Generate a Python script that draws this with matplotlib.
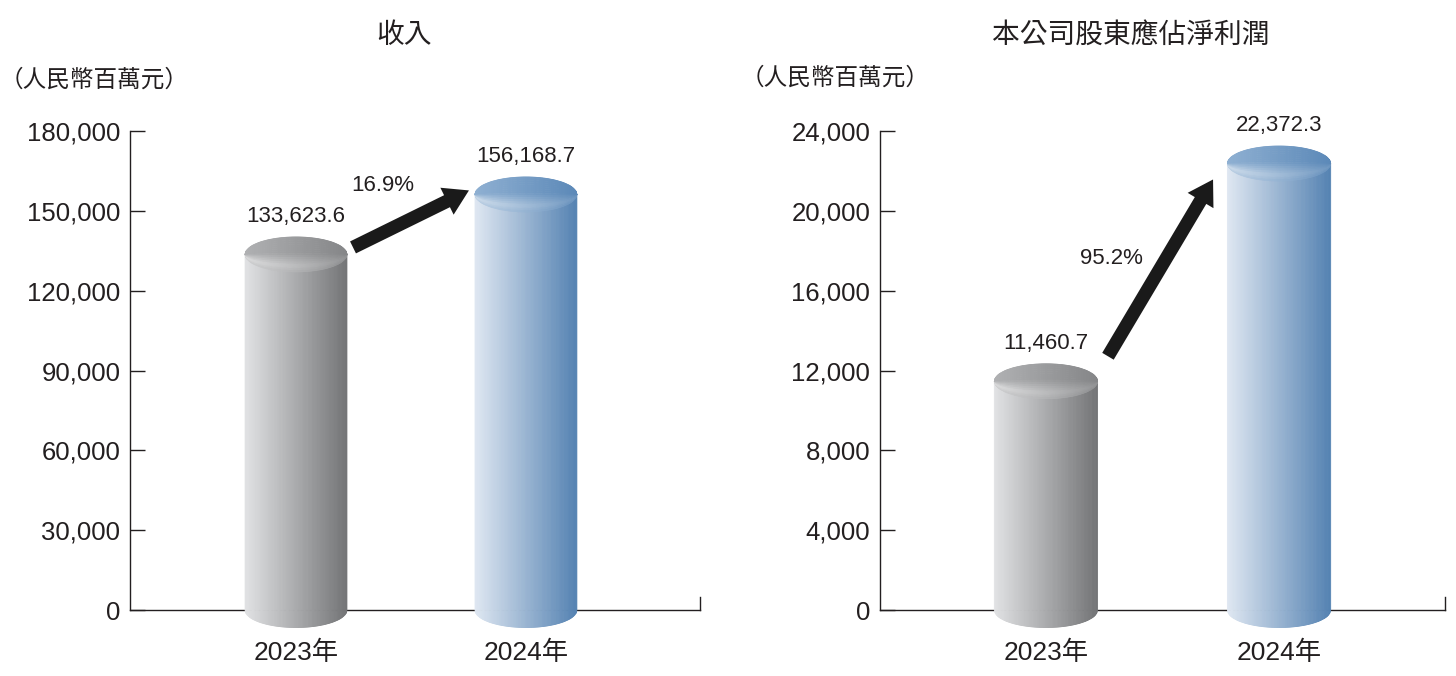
import numpy as np
import matplotlib
matplotlib.use('Agg')
import matplotlib.pyplot as plt
from matplotlib.colors import to_rgb
from matplotlib.collections import PolyCollection
from matplotlib.transforms import offset_copy

plt.rcParams['font.family'] = ['Liberation Sans', 'Noto Sans CJK TC']

# ---------------- data ----------------
years = ['2023年', '2024年']
revenue = [133623.6, 156168.7]
profit = [11460.7, 22372.3]
revenue_growth = '16.9%'
profit_growth = '95.2%'
revenue_ticks = [0, 30000, 60000, 90000, 120000, 150000, 180000]
profit_ticks = [0, 4000, 8000, 12000, 16000, 20000, 24000]
titles = ['收入', '本公司股東應佔淨利潤']
unit = '（人民幣百萬元）'

TXT = '#231f20'
W, H, DPI = 1456, 676, 100
fig = plt.figure(figsize=(W / DPI, H / DPI), dpi=DPI)


def px_axes(l, r, b_px, t_px):
    return fig.add_axes([l / W, (H - b_px) / H, (r - l) / W, (b_px - t_px) / H])


def cylinder(ax, x, v, w, ry, body_cols, top_cols, n=90):
    a = w / 2
    xs = np.linspace(x - a, x + a, n + 1)
    b0, b1 = np.array(to_rgb(body_cols[0])), np.array(to_rgb(body_cols[1]))
    t0, t1 = np.array(to_rgb(top_cols[0])), np.array(to_rgb(top_cols[1]))
    polys, cols = [], []
    tpolys, tcols = [], []
    for i in range(n):
        seg = np.linspace(xs[i], xs[i + 1], 4)
        ell = ry * np.sqrt(np.clip(1 - ((seg - x) / a) ** 2, 0, 1))
        tx = ((xs[i] + xs[i + 1]) / 2 - (x - a)) / w
        poly = list(zip(seg, -ell)) + list(zip(seg[::-1], np.full(4, v)))
        polys.append(poly)
        cols.append(b0 + (b1 - b0) * tx)
        m = 16
        for j in range(m):
            fa, fb = -1 + 2 * j / m, -1 + 2 * (j + 1) / m
            ya = v + ell * fa
            yb = v + ell * fb
            tpolys.append(list(zip(seg, ya)) + list(zip(seg[::-1], yb[::-1])))
            base = t0 + (t1 - t0) * tx
            fy = (fa + fb) / 2  # -1 front .. +1 back
            hl = 0.5 * max(0.0, 1 - abs(fy + 0.62) / 0.75) * (1 - 0.75 * tx)
            hl += 0.12 * max(0.0, (0.0 - fy)) * (1 - tx)
            c = base + (1 - base) * min(hl, 0.7)
            tcols.append(np.clip(c, 0, 1))
    pc = PolyCollection(polys, facecolors=cols, edgecolors=cols, linewidths=0.6,
                        zorder=3, clip_on=False)
    ax.add_collection(pc)
    tc = PolyCollection(tpolys, facecolors=tcols, edgecolors=tcols, linewidths=0.5,
                        zorder=4, clip_on=False)
    ax.add_collection(tc)


panels = [
    dict(rect=(130, 700), xlim=(-0.722, 1.757), vals=revenue, ticks=revenue_ticks,
         growth=revenue_growth, title=titles[0], title_x=404, unit_x=94, unit_y=80,
         tail=(57, 7), head=(-57, 4), pct=(62.6, 49.7)),
    dict(rect=(880, 1445), xlim=(-0.712, 1.712), vals=profit, ticks=profit_ticks,
         growth=profit_growth, title=titles[1], title_x=1131, unit_x=835, unit_y=78,
         tail=(62, 25), head=(-66, -16), pct=(46.8, 88.6)),
]

gray_body = ('#e2e3e5', '#737476')
gray_top = ('#b0b1b3', '#858688')
blue_body = ('#e0e8f2', '#5482b2')
blue_top = ('#8fb0d2', '#5c89b8')

for p in panels:
    ax = px_axes(p['rect'][0], p['rect'][1], 610, 131)
    ymax = p['ticks'][-1]
    ax.set_xlim(*p['xlim'])
    ax.set_ylim(0, ymax)
    for s in ['top', 'right']:
        ax.spines[s].set_visible(False)
    for s in ['left', 'bottom']:
        ax.spines[s].set_color('#231f20')
        ax.spines[s].set_linewidth(1.0)
    ax.set_yticks(p['ticks'])
    ax.set_yticklabels([f'{t:,}' for t in p['ticks']])
    ax.tick_params(axis='y', direction='in', length=11, width=1, pad=7,
                   labelsize=18.5, colors=TXT)
    ax.set_xticks(range(len(years)))
    ax.set_xticklabels(years)
    ax.tick_params(axis='x', length=0, pad=22, labelsize=19, colors=TXT)
    ax.axvline(p['xlim'][1], ymin=0, ymax=13 / 479, color='#231f20', lw=1.0,
               clip_on=False)

    w = 0.443
    ry = 17.5 / 479 * ymax
    vals = p['vals']
    cylinder(ax, 0, vals[0], w, ry, gray_body, gray_top)
    cylinder(ax, 1, vals[1], w, ry, blue_body, blue_top)

    for i, v in enumerate(vals):
        ax.annotate(f'{v:,.1f}', xy=(i, v), xytext=(0, 27), textcoords='offset points',
                    ha='center', va='center', fontsize=16, color=TXT,
                    annotation_clip=False)

    ax.annotate('', xy=(1, vals[1]),
                xycoords=offset_copy(ax.transData, fig, x=p['head'][0], y=p['head'][1], units='dots'),
                xytext=(0, vals[0]),
                textcoords=offset_copy(ax.transData, fig, x=p['tail'][0], y=p['tail'][1], units='dots'),
                arrowprops=dict(arrowstyle='simple,head_length=1.1,head_width=1.35,tail_width=0.6',
                                mutation_scale=16, fc='#1a1a1a', ec='none',
                                shrinkA=0, shrinkB=0),
                annotation_clip=False, zorder=5)
    ax.annotate(p['growth'], xy=(0, vals[0]), xytext=p['pct'], textcoords='offset points',
                ha='center', va='center', fontsize=16, color=TXT, annotation_clip=False)

    fig.text(p['title_x'] / W, 1 - 35 / H, p['title'], ha='center', va='center',
             fontsize=20, color=TXT, family=['Noto Sans CJK TC'])
    fig.text(p['unit_x'] / W, 1 - p['unit_y'] / H, unit, ha='center', va='center',
             fontsize=17, color=TXT, family=['Noto Sans CJK TC'])

fig.savefig('out.png', dpi=DPI, facecolor='white')
